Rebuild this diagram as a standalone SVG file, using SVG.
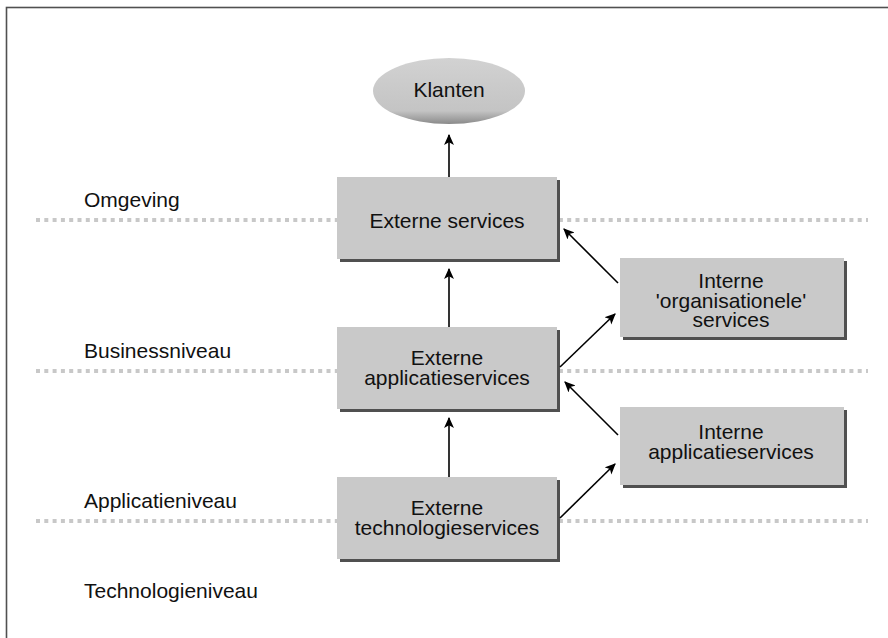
<svg xmlns="http://www.w3.org/2000/svg" width="888" height="638" viewBox="0 0 888 638">
<style>
.t{font-family:"Liberation Sans",Arial,sans-serif;font-size:21px;fill:#111}
.c{text-anchor:middle}
.dot{stroke:#c8c8c8;stroke-width:4;stroke-dasharray:4 4.3;fill:none}
.box{fill:#c9c9c9}
.sh{fill:#505050}
.ar{stroke:#000;stroke-width:1.6;fill:none;marker-end:url(#ah)}
</style>
<defs>
<marker id="ah" viewBox="0 0 10 10" refX="9" refY="5" markerWidth="11" markerHeight="11" markerUnits="userSpaceOnUse" orient="auto">
<path d="M0,0.5 L10,5 L0,9.5 L2.5,5 Z" fill="#000"/>
</marker>
<linearGradient id="eg" x1="0" y1="0" x2="0" y2="1">
<stop offset="0" stop-color="#d2d2d2"/>
<stop offset="0.8" stop-color="#c4c4c4"/>
<stop offset="1" stop-color="#8a8a8a"/>
</linearGradient>
</defs>
<rect width="888" height="638" fill="#fff"/>
<rect x="6.5" y="7.5" width="900" height="700" fill="none" stroke="#505050" stroke-width="1.6"/>
<g id="levels">
<line class="dot" x1="36" y1="220" x2="868" y2="220"/>
<line class="dot" x1="36" y1="371" x2="868" y2="371"/>
<line class="dot" x1="36" y1="521" x2="868" y2="521"/>
<text class="t" x="84" y="207">Omgeving</text>
<text class="t" x="84" y="358">Businessniveau</text>
<text class="t" x="84" y="508">Applicatieniveau</text>
<text class="t" x="84" y="598">Technologieniveau</text>
</g>
<g id="klanten">
<ellipse cx="449" cy="91" rx="76" ry="33" fill="url(#eg)"/>
<text class="t c" x="449" y="97">Klanten</text>
</g>
<g id="externe-services">
<rect class="sh" x="340" y="180" width="220" height="82"/>
<rect class="box" x="337" y="177" width="220" height="82"/>
<text class="t c" x="447" y="228">Externe services</text>
</g>
<g id="externe-applicatieservices">
<rect class="sh" x="340" y="330" width="220" height="82"/>
<rect class="box" x="337" y="327" width="220" height="82"/>
<text class="t c" x="447" y="365">Externe</text>
<text class="t c" x="447" y="385">applicatieservices</text>
</g>
<g id="externe-technologieservices">
<rect class="sh" x="340" y="480" width="220" height="82"/>
<rect class="box" x="337" y="477" width="220" height="82"/>
<text class="t c" x="447" y="515">Externe</text>
<text class="t c" x="447" y="535">technologieservices</text>
</g>
<g id="interne-organisationele-services">
<rect class="sh" x="623" y="261" width="224" height="79"/>
<rect class="box" x="620" y="258" width="224" height="79"/>
<text class="t c" x="731" y="288">Interne</text>
<text class="t c" x="731" y="308">'organisationele'</text>
<text class="t c" x="731" y="327">services</text>
</g>
<g id="interne-applicatieservices">
<rect class="sh" x="623" y="410" width="224" height="78"/>
<rect class="box" x="620" y="407" width="224" height="78"/>
<text class="t c" x="731" y="439">Interne</text>
<text class="t c" x="731" y="459">applicatieservices</text>
</g>
<g id="connectors">
<line class="ar" x1="449" y1="177" x2="449" y2="135"/>
<line class="ar" x1="449" y1="327" x2="449" y2="269"/>
<line class="ar" x1="449" y1="477" x2="449" y2="418"/>
<line class="ar" x1="560" y1="367" x2="615" y2="314"/>
<line class="ar" x1="618" y1="283" x2="564" y2="229"/>
<line class="ar" x1="618" y1="435" x2="565" y2="382"/>
<line class="ar" x1="560" y1="518" x2="615" y2="464"/>
</g>
</svg>
